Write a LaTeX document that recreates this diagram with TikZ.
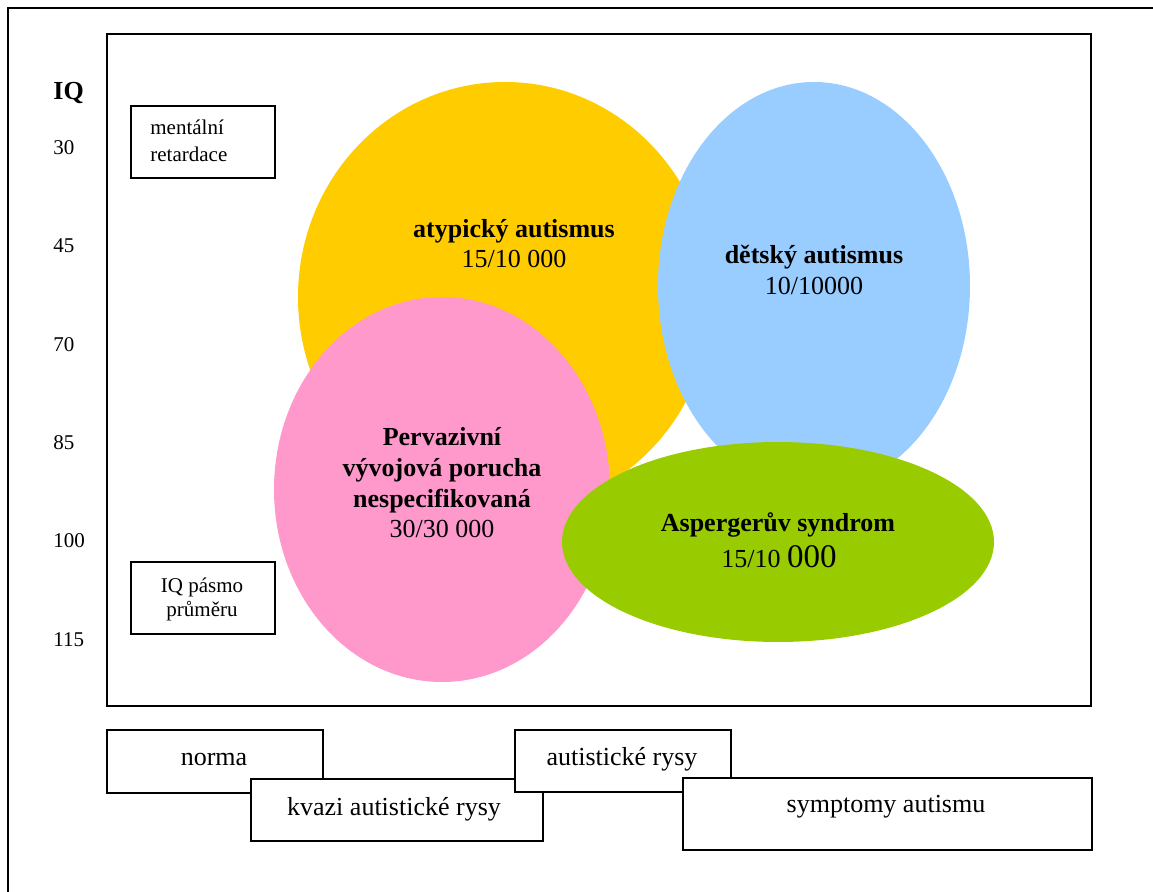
\documentclass[tikz,border=0pt]{standalone}
\usepackage{fontspec}
\setmainfont{Liberation Serif}
\usetikzlibrary{shapes.geometric}
\definecolor{cyellow}{HTML}{FFCC00}
\definecolor{cblue}{HTML}{99CCFF}
\definecolor{cpink}{HTML}{FF99CC}
\definecolor{cgreen}{HTML}{99CC00}
\tikzset{
  blob/.style={ellipse, inner sep=0pt, outer sep=0pt, draw=none},
  frameline/.style={line width=0.9pt, draw=black},
  labbox/.style={rectangle, draw=black, fill=white, line width=0.9pt, inner sep=0pt, anchor=north west},
  bigtxt/.style={font=\fontsize{13}{15.5}\selectfont, anchor=base, inner sep=0pt},
  bigbold/.style={font=\fontsize{13}{15.5}\selectfont\bfseries, anchor=base, inner sep=0pt},
  smalltxt/.style={font=\fontsize{10.5}{12.5}\selectfont, anchor=base, inner sep=0pt},
  scalenum/.style={font=\fontsize{10.5}{12.5}\selectfont, anchor=base west, inner sep=0pt}
}
\begin{document}
\begin{tikzpicture}[x=0.5pt,y=-0.5pt]
\useasboundingbox (0,0) rectangle (1153,892);
% outer frame (only left and top visible)
\coordinate (obl) at (8,892);
\coordinate (otl) at (8,8);
\coordinate (otr) at (1153,8);
\draw[frameline] (obl) -- (otl) -- (otr);
% inner frame
\node[labbox, fill=none, minimum width=492pt, minimum height=336pt] (inner) at (106,33) {};

% ellipses
\node[blob, fill=cyellow, minimum width=207pt, minimum height=215pt] (yel) at (505,297) {};
\node[blob, fill=cblue, minimum width=156pt, minimum height=204pt] (blu) at (814,286) {};
\node[blob, fill=cpink, minimum width=168pt, minimum height=192.5pt] (pnk) at (442,489.5) {};
\node[blob, fill=cgreen, minimum width=216pt, minimum height=100pt] (grn) at (778,542) {};

% ellipse texts
\node[bigbold] (ya) at (514,238) {atypický autismus};
\node[bigtxt] (yb) at (514,268) {15/10 000};
\node[bigbold] (ba) at (814,264) {dětský autismus};
\node[bigtxt] (bb) at (814,295) {10/10000};
\node[bigbold] (pa) at (442,446) {Pervazivní};
\node[bigbold] (pb) at (442,477) {vývojová porucha};
\node[bigbold] (pc) at (442,508) {nespecifikovaná};
\node[bigtxt] (pd) at (442,538) {30/30 000};
\node[bigbold] (ga) at (778,532) {Aspergerův syndrom};
\node[bigtxt] (gb) at (779,568) {15/10 {\fontsize{16.5}{20}\selectfont 000}};

% IQ scale
\node[font=\fontsize{13}{15.5}\selectfont\bfseries, anchor=base west, inner sep=0pt] (iq) at (53,100) {IQ};
\node[scalenum] (s30) at (53,155) {30};
\node[scalenum] (s45) at (53,253) {45};
\node[scalenum] (s70) at (53,351.5) {70};
\node[scalenum] (s85) at (53,450) {85};
\node[scalenum] (s100) at (53,548) {100};
\node[scalenum] (s115) at (53,647) {115};

% left boxes
\node[labbox, minimum width=72pt, minimum height=36pt] (mr) at (130,105) {};
\node[smalltxt, anchor=base west] (mr1) at (150,135) {mentální};
\node[smalltxt, anchor=base west] (mr2) at (150,162) {retardace};
\node[labbox, minimum width=72pt, minimum height=36pt] (ipm) at (130,561) {};
\node[smalltxt] (ip1) at (202,593) {IQ pásmo};
\node[smalltxt] (ip2) at (202,617) {průměru};

% bottom boxes
\node[labbox, minimum width=108pt, minimum height=31.5pt] (norm) at (106,729) {};
\node[bigtxt] (normt) at (214,766) {norma};
\node[labbox, minimum width=146pt, minimum height=31pt] (kvaz) at (250,778) {};
\node[bigtxt] (kvazt) at (394,816) {kvazi autistické rysy};
\node[labbox, minimum width=108pt, minimum height=31pt] (autr) at (514,729) {};
\node[bigtxt] (autrt) at (622,766) {autistické rysy};
\node[labbox, minimum width=204.5pt, minimum height=36pt] (symp) at (682,777) {};
\node[bigtxt] (sympt) at (886,813) {symptomy autismu};
\end{tikzpicture}
\end{document}
